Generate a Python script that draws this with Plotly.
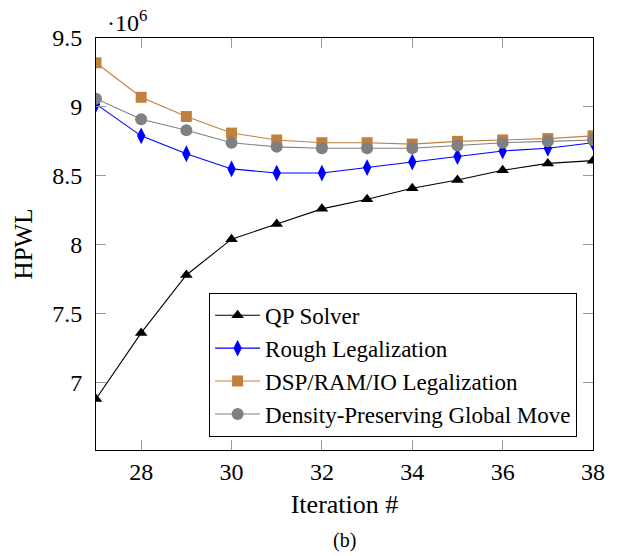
import plotly.graph_objects as go

iterations = [27, 28, 29, 30, 31, 32, 33, 34, 35, 36, 37, 38]
qp_solver = [6.88, 7.36, 7.78, 8.04, 8.15, 8.26, 8.33, 8.41, 8.47, 8.54, 8.59, 8.61]
rough_legal = [9.02, 8.79, 8.66, 8.55, 8.52, 8.52, 8.56, 8.60, 8.64, 8.68, 8.70, 8.74]
dsp_legal = [9.32, 9.07, 8.93, 8.81, 8.76, 8.74, 8.74, 8.73, 8.75, 8.76, 8.77, 8.79]
global_move = [9.06, 8.91, 8.83, 8.74, 8.71, 8.70, 8.70, 8.70, 8.72, 8.74, 8.75, 8.76]

names = ["QP Solver", "Rough Legalization", "DSP/RAM/IO Legalization",
         "Density-Preserving Global Move"]
x_ticks = [28, 30, 32, 34, 36, 38]
y_ticks = [7, 7.5, 8, 8.5, 9, 9.5]
y_ticktext = ["7", "7.5", "8", "8.5", "9", "9.5"]

FONT = "Liberation Serif"

fig = go.Figure()
styles = [
    dict(color="black", symbol="triangle-up", size=11, lw=1.1),
    dict(color="#0000FF", symbol="diamond-tall", size=12, lw=1.1),
    dict(color="#C0803F", symbol="square", size=11, lw=1.1),
    dict(color="#808080", symbol="circle", size=12, lw=1.1),
]
for name, ys, st in zip(names, [qp_solver, rough_legal, dsp_legal, global_move], styles):
    fig.add_trace(go.Scatter(
        x=iterations, y=ys, name=name, mode="lines+markers",
        line=dict(color=st["color"], width=st["lw"]),
        marker=dict(symbol=st["symbol"], size=st["size"], color=st["color"],
                    line=dict(width=0)),
    ))

axis_common = dict(
    showgrid=False, zeroline=False, showline=True, linecolor="black", linewidth=1,
    mirror="allticks", ticks="inside", ticklen=10, tickcolor="#999999", tickwidth=1,
    tickfont=dict(family=FONT, size=24, color="black"),
)

fig.update_xaxes(
    range=[27, 38], tickvals=x_ticks,
    title=dict(text="Iteration #", font=dict(family=FONT, size=26, color="black"), standoff=11),
    ticklabelstandoff=0,
    **axis_common,
)
fig.update_yaxes(
    range=[6.51, 9.5], tickvals=y_ticks, ticktext=y_ticktext,
    title=dict(text="HPWL", font=dict(family=FONT, size=25, color="black"), standoff=12),
    ticklabelstandoff=8,
    **axis_common,
)

fig.add_annotation(text="·10<sup>6</sup>", xref="paper", yref="paper", x=0.018, y=1.0,
                   xanchor="left", yanchor="bottom", showarrow=False,
                   font=dict(family=FONT, size=24, color="black"))
fig.add_annotation(text="(b)", xref="paper", yref="paper", x=0.5, y=-0.22,
                   xanchor="center", yanchor="middle", showarrow=False,
                   font=dict(family=FONT, size=20, color="black"))

fig.update_layout(
    width=625, height=556,
    margin=dict(l=96, r=32, t=38, b=106),
    paper_bgcolor="white", plot_bgcolor="white",
    font=dict(family=FONT, color="black"),
    legend=dict(
        x=0.968, y=0.032, xanchor="right", yanchor="bottom",
        bgcolor="white", bordercolor="black", borderwidth=1,
        font=dict(family=FONT, size=23, color="black"),
        itemwidth=45, entrywidth=340, entrywidthmode="pixels",
        tracegroupgap=0,
    ),
)

fig.write_html(
    "out.html",
    config={"displayModeBar": False},
    post_script="document.body.style.margin='0';document.body.style.overflow='hidden';",
)
